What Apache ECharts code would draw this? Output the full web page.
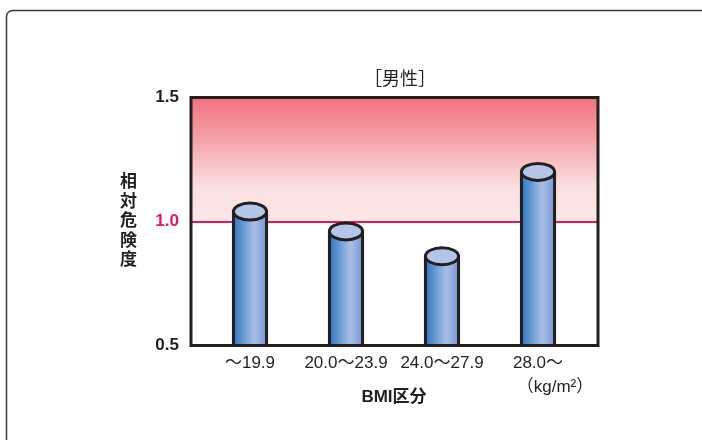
<!DOCTYPE html>
<html>
<head>
<meta charset="utf-8">
<style>
  html, body { margin: 0; padding: 0; background: #fff; }
  #chart { width: 702px; height: 440px; }
</style>
<script src="https://cdn.jsdelivr.net/npm/echarts@6/dist/echarts.min.js"></script>
</head>
<body>
<div id="chart"></div>
<script>
// BMI categories and relative risk (men)
const categories = ['～19.9', '20.0～23.9', '24.0～27.9', '28.0～'];
const relativeRisk = [1.04, 0.96, 0.86, 1.20];
const yTicks = [0.5, 1.0, 1.5];
const referenceLevel = 1.0;
const titleText = '［男性］';
const yName = '相対危険度';
const xName = 'BMI区分';
const unitText = '（kg/m²）';

const FONT = '"Liberation Sans", "Noto Sans CJK JP", sans-serif';
const INK = '#231f20';
const yMin = yTicks[0];
const yMax = yTicks[yTicks.length - 1];
const yStep = yTicks[1] - yTicks[0];

const chart = echarts.init(document.getElementById('chart'), null, { renderer: 'canvas' });

// Cylinder body shading, left dark to right light
const bodyGradient = new echarts.graphic.LinearGradient(0, 0, 1, 0, [
  { offset: 0, color: '#2472c0' },
  { offset: 0.62, color: '#a9c0e6' },
  { offset: 1, color: '#7193d2' }
]);

function renderCylinder(params, api) {
  const top = api.coord([api.value(0), api.value(1)]);
  const base = api.coord([api.value(0), yMin]);
  const w = api.size([1, 0])[0] * 0.345;
  const rx = w / 2;
  const ry = 8.5;
  return {
    type: 'group',
    children: [
      {
        type: 'rect',
        shape: { x: top[0] - rx, y: top[1], width: w, height: base[1] - top[1] },
        style: { fill: bodyGradient, stroke: INK, lineWidth: 3 }
      },
      {
        type: 'ellipse',
        shape: { cx: top[0], cy: top[1], rx: rx, ry: ry },
        style: { fill: '#b3c6e8', stroke: INK, lineWidth: 3 }
      }
    ]
  };
}

const option = {
  backgroundColor: '#fff',
  animation: false,
  textStyle: { fontFamily: FONT },
  title: {
    text: titleText,
    left: 395,
    top: 66,
    textAlign: 'center',
    textStyle: { fontSize: 18, fontWeight: 'normal', color: INK, fontFamily: FONT }
  },
  graphic: [
    {
      type: 'rect',
      shape: { x: 6.5, y: 10.5, width: 740, height: 480, r: 6 },
      style: { fill: 'none', stroke: '#3a3a3a', lineWidth: 1.5 },
      silent: true
    }
  ],
  grid: [
    // frame + risk zone
    { left: 191, right: 104, top: 97.5, bottom: 94.5, show: true, borderColor: INK, borderWidth: 3, backgroundColor: 'transparent', z: 10 },
    // bars
    { left: 202, right: 116, top: 97.5, bottom: 94.5 }
  ],
  xAxis: [
    { gridIndex: 0, type: 'value', min: 0, max: 1, show: false },
    {
      gridIndex: 1,
      type: 'category',
      data: categories,
      axisLine: { show: false },
      axisTick: { show: false },
      axisLabel: {
        interval: 0,
        hideOverlap: false,
        margin: 7,
        fontSize: 17,
        color: INK,
        fontFamily: FONT,
        lineHeight: 22,
        formatter: function (v, i) {
          return i === categories.length - 1 ? v + '\n{u|' + unitText + '}' : v;
        },
        rich: {
          u: { fontSize: 17, color: INK, fontFamily: FONT, lineHeight: 26, padding: [0, 0, 0, 34] }
        }
      },
      name: xName,
      nameLocation: 'middle',
      nameGap: 43,
      nameMoveOverlap: false,
      nameTextStyle: { fontSize: 17, fontWeight: 'bold', color: INK, fontFamily: FONT }
    }
  ],
  yAxis: [
    {
      gridIndex: 0,
      type: 'value',
      min: yMin,
      max: yMax,
      interval: yStep,
      axisLine: { show: false },
      axisTick: { show: false },
      splitLine: { show: false },
      axisLabel: {
        margin: 12,
        fontSize: 17,
        fontWeight: 'bold',
        color: INK,
        fontFamily: FONT,
        formatter: function (v) {
          const s = v.toFixed(1);
          return Math.abs(v - referenceLevel) < 1e-9 ? '{h|' + s + '}' : s;
        },
        rich: {
          h: { fontSize: 17, fontWeight: 'bold', color: '#e3175b', fontFamily: FONT }
        }
      },
      name: yName.split('').join('\n'),
      nameLocation: 'middle',
      nameRotate: 0,
      nameGap: 54,
      nameMoveOverlap: false,
      nameTextStyle: { fontSize: 17, fontWeight: 'bold', color: INK, lineHeight: 19.5, fontFamily: FONT }
    },
    { gridIndex: 1, type: 'value', min: yMin, max: yMax, show: false }
  ],
  series: [
    {
      type: 'line',
      xAxisIndex: 0,
      yAxisIndex: 0,
      data: [],
      silent: true,
      z: 1,
      markArea: {
        silent: true,
        itemStyle: {
          color: new echarts.graphic.LinearGradient(0, 0, 0, 1, [
            { offset: 0, color: '#f0717d' },
            { offset: 0.35, color: '#f5a4aa' },
            { offset: 0.72, color: '#fbe0e0' },
            { offset: 1, color: '#fce7e7' }
          ])
        },
        data: [[{ yAxis: referenceLevel }, { yAxis: yMax }]]
      },
      markLine: {
        silent: true,
        symbol: 'none',
        label: { show: false },
        lineStyle: { color: '#e3175b', width: 2, type: 'solid' },
        data: [{ yAxis: referenceLevel }]
      }
    },
    {
      type: 'custom',
      xAxisIndex: 1,
      yAxisIndex: 1,
      z: 5,
      renderItem: renderCylinder,
      data: relativeRisk.map(function (v, i) { return [i, v]; }),
      encode: { x: 0, y: 1 }
    }
  ]
};

chart.setOption(option);
</script>
</body>
</html>
